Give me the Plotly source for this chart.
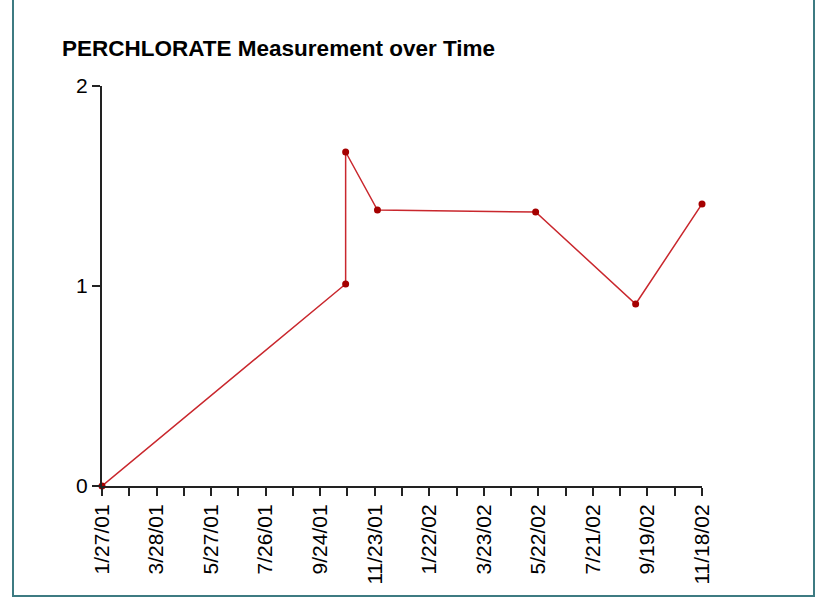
import plotly.graph_objects as go

# Data
dates = ["2001-01-27", "2001-10-22", "2001-10-22", "2001-11-26",
         "2002-05-19", "2002-09-06", "2002-11-18"]
values = [0.0, 1.01, 1.67, 1.38, 1.37, 0.91, 1.41]

tick_dates = ["2001-01-27", "2001-03-28", "2001-05-27", "2001-07-26",
              "2001-09-24", "2001-11-23", "2002-01-22", "2002-03-23",
              "2002-05-22", "2002-07-21", "2002-09-19", "2002-11-18"]
tick_labels = ["1/27/01", "3/28/01", "5/27/01", "7/26/01", "9/24/01",
               "11/23/01", "1/22/02", "3/23/02", "5/22/02", "7/21/02",
               "9/19/02", "11/18/02"]
y_ticks = [0, 1, 2]

title = "PERCHLORATE Measurement over Time"

W, H = 817, 598
L, R, T, B = 102, 115, 86, 112
pw, ph = W - L - R, H - T - B

def px_x(x):
    return (x - L) / pw

def px_y(y):
    return (H - B - y) / ph

fig = go.Figure()
fig.add_trace(go.Scatter(
    x=dates, y=values, mode="lines+markers",
    line=dict(color="#c9272d", width=1.5),
    marker=dict(color="#a50000", size=7),
    cliponaxis=False, showlegend=False,
))

font_family = "Arial, 'Liberation Sans', sans-serif"

fig.update_layout(
    width=W, height=H,
    margin=dict(l=L, r=R, t=T, b=B),
    paper_bgcolor="white", plot_bgcolor="white",
    title=dict(text="<b>" + title + "</b>", x=62 / W, xanchor="left",
               y=1 - 48 / H, yanchor="middle",
               font=dict(family=font_family, size=22.5, color="black")),
    font=dict(family=font_family, color="black"),
    xaxis=dict(
        type="date", range=[tick_dates[0], tick_dates[-1]],
        tickmode="array", tickvals=tick_dates, ticktext=tick_labels,
        tickangle=-90, ticks="outside", ticklen=8, tickwidth=1.5,
        tickcolor="#222", showline=True, linecolor="#222", linewidth=2,
        showgrid=False, zeroline=False,
        tickfont=dict(size=21, family=font_family, color="black"),
        minor=dict(dtick=30 * 86400000, tick0=tick_dates[0], ticks="outside",
                   ticklen=8, tickwidth=1.5, tickcolor="#222", showgrid=False),
    ),
    yaxis=dict(
        range=[0, 2], tickmode="array", tickvals=y_ticks,
        ticks="outside", ticklen=8, tickwidth=1.5, tickcolor="#222",
        showline=True, linecolor="#222", linewidth=2,
        showgrid=False, zeroline=False,
        tickfont=dict(size=21, family=font_family, color="black"),
    ),
    shapes=[dict(
        type="rect", xref="paper", yref="paper",
        x0=px_x(13), x1=px_x(814), y0=px_y(596), y1=px_y(-10),
        line=dict(color="#3d7b82", width=2), fillcolor="rgba(0,0,0,0)",
        layer="below",
    )],
)

# remove the default page margin so the figure sits at the window origin
fig.write_html("out.html",
               config={"displayModeBar": False},
               post_script="document.body.style.margin='0';"
                           "document.body.style.overflow='hidden';")
